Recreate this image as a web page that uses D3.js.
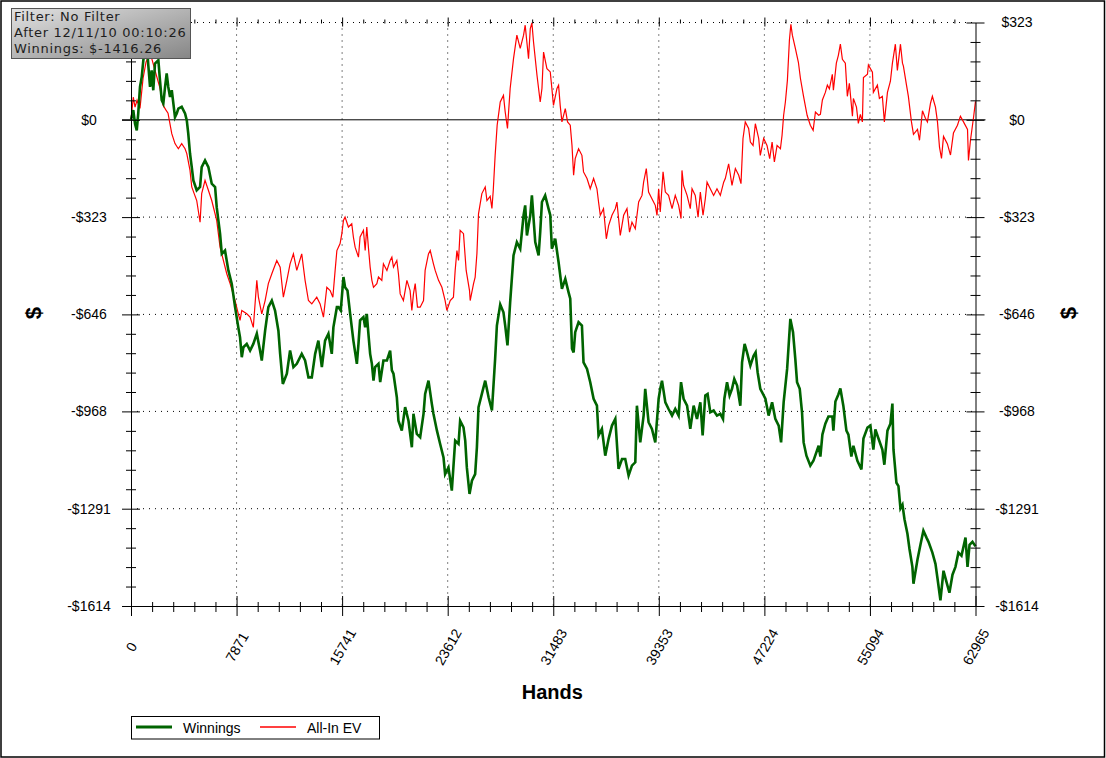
<!DOCTYPE html>
<html>
<head>
<meta charset="utf-8">
<script src="https://cdn.jsdelivr.net/npm/d3@7"></script>
<style>
    body { margin: 0; background: #fff; }
    svg { display: block; }
</style>
</head>
<body>
<div id="chart"></div>
<script>
// Tick values
const xTicks = [0, 7871, 15741, 23612, 31483, 39353, 47224, 55094, 62965];
const yTicks = [323, 0, -323, -646, -968, -1291, -1614];
const infoLines = ["Filter: No Filter", "After 12/11/10 00:10:26", "Winnings: $-1416.26"];
const seriesNames = ["Winnings", "All-In EV"];

// [hands, dollars]
const winningsData = [[0,0],[170,32],[300,-13],[430,-35],[540,21],[670,109],[800,142],[920,198],[1040,231],[1190,248],[1290,181],[1420,109],[1540,164],[1660,98],[1790,187],[2040,198],[2160,131],[2290,65],[2410,54],[2540,109],[2660,154],[2780,109],[2910,76],[3040,98],[3160,54],[3280,9],[3410,21],[3530,37],[3780,43],[4030,21],[4160,-2],[4270,-46],[4400,-112],[4530,-157],[4650,-201],[4900,-234],[5150,-223],[5270,-157],[5520,-135],[5770,-157],[6020,-212],[6270,-223],[6390,-290],[6640,-378],[6770,-445],[7010,-434],[7260,-500],[7510,-544],[7760,-622],[8000,-689],[8130,-722],[8260,-788],[8380,-755],[8630,-744],[8880,-766],[9120,-744],[9380,-710],[9620,-766],[9750,-799],[10000,-700],[10240,-622],[10500,-600],[10740,-633],[10990,-700],[11120,-777],[11320,-877],[11620,-843],[11860,-766],[12110,-821],[12360,-810],[12730,-777],[12980,-799],[13230,-855],[13480,-855],[13730,-777],[13970,-733],[14230,-821],[14470,-733],[14720,-710],[14970,-777],[15090,-689],[15350,-622],[15470,-622],[15640,-633],[15840,-522],[15960,-556],[16140,-567],[16340,-644],[16580,-733],[16840,-810],[16960,-744],[17080,-666],[17330,-655],[17460,-689],[17580,-644],[17700,-710],[17830,-777],[17960,-810],[18080,-866],[18200,-821],[18450,-810],[18580,-871],[18820,-799],[19080,-799],[19320,-766],[19450,-832],[19570,-843],[19820,-921],[19940,-999],[20190,-1032],[20440,-954],[20690,-999],[20940,-1087],[21060,-976],[21310,-1043],[21560,-1054],[21810,-976],[21930,-910],[22180,-866],[22430,-943],[22550,-976],[22810,-1032],[23050,-1076],[23300,-1121],[23420,-1176],[23670,-1154],[23920,-1231],[24170,-1065],[24420,-1076],[24540,-999],[24790,-1021],[24920,-1065],[25040,-1154],[25240,-1242],[25420,-1198],[25660,-1176],[25790,-1087],[25910,-954],[26160,-910],[26410,-866],[26660,-921],[26910,-965],[27030,-879],[27150,-793],[27280,-683],[27530,-613],[27770,-639],[27900,-683],[28070,-749],[28270,-605],[28520,-450],[28770,-406],[29020,-428],[29270,-317],[29390,-284],[29520,-384],[29770,-317],[29890,-251],[30140,-406],[30390,-450],[30510,-373],[30640,-273],[30880,-251],[31130,-295],[31260,-317],[31380,-428],[31630,-395],[31880,-473],[32130,-561],[32380,-528],[32620,-572],[32750,-594],[32880,-760],[33000,-772],[33120,-705],[33370,-672],[33620,-683],[33740,-805],[34000,-827],[34240,-871],[34490,-926],[34740,-949],[34860,-1048],[35110,-1026],[35360,-1115],[35610,-1059],[35860,-1015],[36110,-993],[36350,-1159],[36610,-1126],[36850,-1126],[37100,-1181],[37350,-1148],[37600,-1137],[37720,-949],[37970,-1071],[38220,-982],[38340,-893],[38590,-1004],[38840,-1026],[39090,-1071],[39340,-926],[39460,-893],[39590,-866],[39840,-938],[40080,-960],[40340,-982],[40580,-960],[40830,-982],[41010,-871],[41200,-926],[41460,-949],[41700,-1026],[41950,-949],[42200,-993],[42450,-938],[42620,-1048],[42820,-915],[42990,-910],[43190,-971],[43440,-965],[43690,-982],[43940,-976],[44140,-993],[44240,-926],[44440,-871],[44630,-915],[44810,-893],[44980,-860],[45190,-882],[45430,-949],[45560,-805],[45750,-744],[45930,-772],[46180,-816],[46420,-783],[46570,-772],[46720,-838],[46920,-893],[47300,-926],[47540,-982],[47800,-938],[48040,-993],[48290,-1015],[48470,-1071],[48660,-938],[48920,-827],[49160,-661],[49360,-705],[49530,-794],[49660,-871],[49860,-893],[50030,-971],[50150,-1071],[50360,-1115],[50650,-1148],[50880,-1132],[51270,-1082],[51400,-1118],[51550,-1045],[51770,-1009],[52000,-985],[52290,-985],[52370,-1032],[52520,-935],[52740,-912],[52890,-892],[53110,-949],[53340,-1032],[53490,-1045],[53710,-1118],[53860,-1082],[54160,-1132],[54460,-1161],[54610,-1058],[54910,-1022],[55130,-1015],[55350,-1095],[55500,-1028],[55730,-1058],[56020,-1095],[56170,-1145],[56400,-1032],[56620,-1009],[56770,-942],[56850,-1095],[57070,-1205],[57220,-1216],[57370,-1290],[57520,-1278],[57670,-1326],[57890,-1374],[58040,-1424],[58260,-1484],[58340,-1540],[58640,-1460],[58860,-1411],[59080,-1364],[59310,-1387],[59460,-1401],[59750,-1437],[59980,-1474],[60130,-1522],[60350,-1595],[60580,-1497],[60800,-1534],[61020,-1570],[61250,-1510],[61470,-1484],[61690,-1437],[61920,-1447],[62220,-1387],[62370,-1484],[62520,-1411],[62740,-1401],[62965,-1416]];

const evData = [[0,0],[170,75],[300,42],[450,65],[670,38],[900,138],[1120,191],[1420,224],[1790,164],[2160,105],[2390,48],[2610,32],[2760,22],[3040,-46],[3280,-79],[3530,-96],[3780,-79],[4030,-96],[4160,-112],[4400,-168],[4530,-223],[4900,-268],[5150,-340],[5270,-245],[5520,-201],[5770,-234],[6020,-268],[6390,-334],[6640,-423],[7140,-511],[7390,-544],[7760,-600],[8000,-644],[8130,-666],[8260,-633],[8630,-644],[8880,-655],[9120,-689],[9380,-533],[9500,-589],[9750,-644],[10000,-600],[10240,-544],[10500,-511],[10870,-467],[11120,-489],[11360,-589],[11620,-533],[11860,-478],[12110,-445],[12360,-500],[12730,-445],[12980,-533],[13230,-600],[13480,-611],[13850,-589],[14100,-611],[14350,-655],[14600,-556],[14850,-567],[15050,-589],[15220,-500],[15350,-434],[15590,-411],[15720,-378],[15840,-334],[15960,-323],[16210,-356],[16460,-345],[16580,-389],[16710,-423],[16960,-456],[17080,-389],[17330,-367],[17460,-434],[17580,-356],[17700,-423],[17830,-489],[17960,-533],[18080,-556],[18330,-544],[18450,-522],[18700,-533],[18820,-478],[19080,-500],[19320,-467],[19450,-456],[19570,-489],[19820,-467],[19940,-511],[20070,-578],[20310,-600],[20440,-567],[20570,-533],[20810,-567],[20940,-633],[21060,-578],[21190,-544],[21360,-622],[21560,-622],[21810,-600],[21930,-500],[22180,-445],[22310,-434],[22550,-478],[22680,-500],[22930,-533],[23180,-556],[23420,-600],[23550,-633],[23800,-600],[24040,-589],[24170,-500],[24300,-434],[24420,-467],[24540,-367],[24790,-378],[24990,-500],[25240,-567],[25290,-600],[25540,-544],[25660,-522],[25790,-445],[25910,-312],[26160,-245],[26410,-223],[26540,-268],[26780,-254],[26910,-294],[27010,-234],[27150,-118],[27300,-18],[27530,59],[27770,81],[27900,26],[28070,-29],[28270,104],[28520,203],[28770,281],[29020,237],[29270,281],[29390,314],[29640,203],[29770,303],[29890,322],[30010,259],[30270,148],[30510,59],[30640,104],[30760,225],[31010,170],[31260,159],[31380,104],[31500,48],[31760,104],[31880,115],[32000,48],[32130,-7],[32380,37],[32550,-7],[32750,-18],[32880,-85],[33000,-184],[33120,-129],[33370,-96],[33620,-118],[33740,-173],[34000,-195],[34240,-229],[34490,-195],[34740,-229],[34860,-273],[34990,-317],[35230,-295],[35440,-395],[35610,-351],[35860,-317],[36110,-295],[36230,-273],[36480,-384],[36730,-317],[36980,-295],[37170,-373],[37350,-340],[37600,-362],[37850,-273],[38100,-251],[38220,-207],[38420,-162],[38590,-240],[38840,-262],[39090,-284],[39220,-317],[39340,-229],[39460,-306],[39670,-173],[39840,-240],[40080,-251],[40340,-295],[40580,-251],[40830,-284],[41010,-328],[41080,-168],[41200,-218],[41460,-251],[41700,-295],[41830,-229],[42070,-251],[42280,-323],[42450,-240],[42650,-317],[42820,-262],[42950,-207],[43190,-229],[43440,-251],[43690,-229],[43940,-251],[44190,-207],[44310,-195],[44560,-146],[44810,-218],[45060,-162],[45310,-184],[45480,-212],[45630,-62],[45800,-7],[46050,-29],[46180,-74],[46380,-85],[46550,-13],[46800,-62],[46920,-118],[47170,-62],[47420,-85],[47620,-129],[47800,-74],[47970,-140],[48170,-85],[48420,-96],[48540,-52],[48660,15],[48790,59],[48940,131],[49090,264],[49200,317],[49310,281],[49530,238],[49760,191],[49910,138],[50130,81],[50410,15],[50650,-18],[50860,-35],[51030,26],[51270,15],[51400,18],[51550,66],[51770,91],[51920,115],[52070,103],[52290,151],[52370,98],[52590,188],[52740,214],[52890,251],[53040,201],[53260,188],[53410,78],[53560,121],[53790,12],[53860,71],[54090,42],[54230,-12],[54380,18],[54530,-7],[54610,140],[54910,151],[54980,182],[55280,158],[55350,91],[55650,115],[55800,71],[56020,78],[56170,-7],[56400,91],[56620,128],[56770,188],[56990,251],[57140,164],[57370,251],[57520,188],[57590,178],[57820,115],[57960,78],[58190,-7],[58340,-48],[58640,-32],[58790,-68],[59010,30],[59230,5],[59380,-7],[59610,55],[59750,78],[59980,42],[60130,-7],[60280,-91],[60430,-128],[60580,-55],[60870,-80],[61100,-117],[61320,-44],[61620,-18],[61840,12],[62070,-7],[62370,-32],[62440,-135],[62590,-68],[62810,5],[62965,61]];

const svgWidth = 1106, svgHeight = 758;
const plot = { left: 131, right: 975.5, top: 22.5, bottom: 606 };
const font = "'Liberation Sans', Arial, sans-serif";

const svg = d3.select("#chart")
    .append("svg")
    .attr("width", svgWidth)
    .attr("height", svgHeight)
    .style("font-family", font);

svg.append("rect")
    .attr("x", 1).attr("y", 1)
    .attr("width", svgWidth - 2.5).attr("height", svgHeight - 2)
    .attr("fill", "#fff")
    .attr("stroke", "#000")
    .attr("stroke-width", 1.5);

const x = d3.scaleLinear().domain([0, 62965]).range([plot.left, plot.right]);
const y = d3.scaleLinear().domain([-1614, 323]).range([plot.bottom, plot.top]);

// four minor ticks between each pair of major ticks
function minorTicks(ticks) {
    const out = [];
    for (let i = 0; i < ticks.length - 1; i++) {
        for (let k = 1; k < 5; k++) out.push(ticks[i] + (ticks[i + 1] - ticks[i]) * k / 5);
    }
    return out;
}

const formatDollar = v => v < 0 ? "-$" + (-v) : "$" + v;

// dotted grid
svg.append("g")
    .selectAll("line")
    .data(xTicks.slice(1, -1))
    .enter().append("line")
    .attr("x1", d => x(d)).attr("x2", d => x(d))
    .attr("y1", plot.top).attr("y2", plot.bottom)
    .attr("stroke", "#000")
    .attr("stroke-dasharray", "1,5");

svg.append("g")
    .selectAll("line")
    .data(yTicks.filter(d => d !== 0 && d !== -1614))
    .enter().append("line")
    .attr("x1", plot.left).attr("x2", plot.right)
    .attr("y1", d => y(d)).attr("y2", d => y(d))
    .attr("stroke", "#000")
    .attr("stroke-dasharray", "1,5");

// zero line
svg.append("line")
    .attr("x1", plot.left - 9).attr("x2", plot.right + 10)
    .attr("y1", y(0)).attr("y2", y(0))
    .attr("stroke", "#000");

// Draw the lines
const line = d3.line()
    .x(d => x(d[0]))
    .y(d => y(d[1]));

svg.append("path")
    .datum(evData)
    .attr("fill", "none")
    .attr("stroke", "#ff0000")
    .attr("stroke-width", 1.2)
    .attr("d", line);

svg.append("path")
    .datum(winningsData)
    .attr("fill", "none")
    .attr("stroke", "#006400")
    .attr("stroke-width", 2.6)
    .attr("d", line);

// axes: ticks cross the axis line
function crossTicks(g, horizontal, a, b) {
    g.selectAll(".tick line")
        .attr(horizontal ? "y1" : "x1", -a)
        .attr(horizontal ? "y2" : "x2", b)
        .attr("stroke", "#000");
    g.select(".domain").attr("stroke", "#000");
}

function yAxis(side, xPos, labelX) {
    // the left $323 label sits under the info box, so it is left blank there
    const fmt = side === "left" ? (v => v === yTicks[0] ? "" : formatDollar(v)) : formatDollar;
    const axis = (side === "left" ? d3.axisLeft(y) : d3.axisRight(y))
        .tickValues(yTicks).tickFormat(fmt).tickSizeOuter(0);
    const g = svg.append("g").attr("transform", `translate(${xPos},0)`).call(axis);
    crossTicks(g, false, 9, 9);
    g.selectAll(".tick text")
        .attr("x", labelX - xPos)
        .attr("text-anchor", "middle")
        .style("font-family", font)
        .style("font-size", "14px")
        .attr("fill", "#000");
    const m = svg.append("g").attr("transform", `translate(${xPos},0)`)
        .call((side === "left" ? d3.axisLeft(y) : d3.axisRight(y))
            .tickValues(minorTicks(yTicks)).tickFormat("").tickSizeOuter(0));
    m.select(".domain").remove();
    crossTicks(m, false, 5, 5);
}
yAxis("left", plot.left, 89);
yAxis("right", plot.right, 1017);

const xAxisG = svg.append("g")
    .attr("transform", `translate(0,${plot.bottom})`)
    .call(d3.axisBottom(x).tickValues(xTicks).tickSizeOuter(0).tickFormat(d => d));
crossTicks(xAxisG, true, 10, 10);
xAxisG.selectAll(".tick text")
    .attr("y", null)
    .attr("dy", "0.35em")
    .attr("text-anchor", "middle")
    .attr("transform", "translate(0,41) rotate(-60)")
    .style("font-family", font)
    .style("font-size", "14px")
    .attr("fill", "#000");
const xMinor = svg.append("g")
    .attr("transform", `translate(0,${plot.bottom})`)
    .call(d3.axisBottom(x).tickValues(minorTicks(xTicks)).tickFormat("").tickSizeOuter(0));
xMinor.select(".domain").remove();
crossTicks(xMinor, true, 4, 6);

// top edge: dotted line with upward ticks
svg.append("line")
    .attr("x1", plot.left).attr("x2", plot.right)
    .attr("y1", plot.top).attr("y2", plot.top)
    .attr("stroke", "#000")
    .attr("stroke-dasharray", "1,5");
const xTop = svg.append("g")
    .attr("transform", `translate(0,${plot.top})`)
    .call(d3.axisTop(x).tickValues(xTicks.slice(1, -1)).tickFormat("").tickSizeOuter(0));
xTop.select(".domain").remove();
crossTicks(xTop, true, 5, 4);
const xTopMinor = svg.append("g")
    .attr("transform", `translate(0,${plot.top})`)
    .call(d3.axisTop(x).tickValues(minorTicks(xTicks)).tickFormat("").tickSizeOuter(0));
xTopMinor.select(".domain").remove();
crossTicks(xTopMinor, true, 3, 1);

// axis titles
svg.append("text")
    .attr("x", (plot.left + plot.right) / 2 - 1)
    .attr("y", 699)
    .attr("text-anchor", "middle")
    .style("font-size", "20px")
    .style("font-weight", "bold")
    .text("Hands");

[33, 1068].forEach(cx => {
    svg.append("text")
        .attr("transform", `translate(${cx},313) rotate(-90)`)
        .attr("dy", "0.35em")
        .attr("text-anchor", "middle")
        .style("font-size", "22px")
        .style("font-weight", "bold")
        .text("$");
});

// info box
const grad = svg.append("defs").append("linearGradient")
    .attr("id", "boxGrad")
    .attr("x1", "0%").attr("y1", "0%").attr("x2", "100%").attr("y2", "100%");
grad.append("stop").attr("offset", "0%").attr("stop-color", "#e2e2e2");
grad.append("stop").attr("offset", "100%").attr("stop-color", "#868686");

svg.append("rect")
    .attr("x", 11.5).attr("y", 8.5)
    .attr("width", 179).attr("height", 50)
    .attr("fill", "url(#boxGrad)")
    .attr("stroke", "#555");

svg.append("g")
    .selectAll("text")
    .data(infoLines)
    .enter().append("text")
    .attr("x", 14)
    .attr("y", (d, i) => 21 + i * 16)
    .style("font-family", "'DejaVu Sans', Verdana, sans-serif")
    .style("font-size", "13px")
    .style("letter-spacing", "0.7px")
    .attr("fill", "#1e1e1e")
    .text(d => d);

// legend
svg.append("rect")
    .attr("x", 131.5).attr("y", 716.5)
    .attr("width", 248).attr("height", 22.5)
    .attr("fill", "#fff")
    .attr("stroke", "#000");

const legendItems = [
    { name: seriesNames[0], color: "#006400", width: 3, x: 136 },
    { name: seriesNames[1], color: "#ff0000", width: 1.4, x: 260 }
];
legendItems.forEach(d => {
    svg.append("line")
        .attr("x1", d.x).attr("x2", d.x + 36)
        .attr("y1", 727).attr("y2", 727)
        .attr("stroke", d.color)
        .attr("stroke-width", d.width);
    svg.append("text")
        .attr("x", d.x + 47)
        .attr("y", 732.5)
        .style("font-size", "14px")
        .text(d.name);
});
</script>
</body>
</html>
